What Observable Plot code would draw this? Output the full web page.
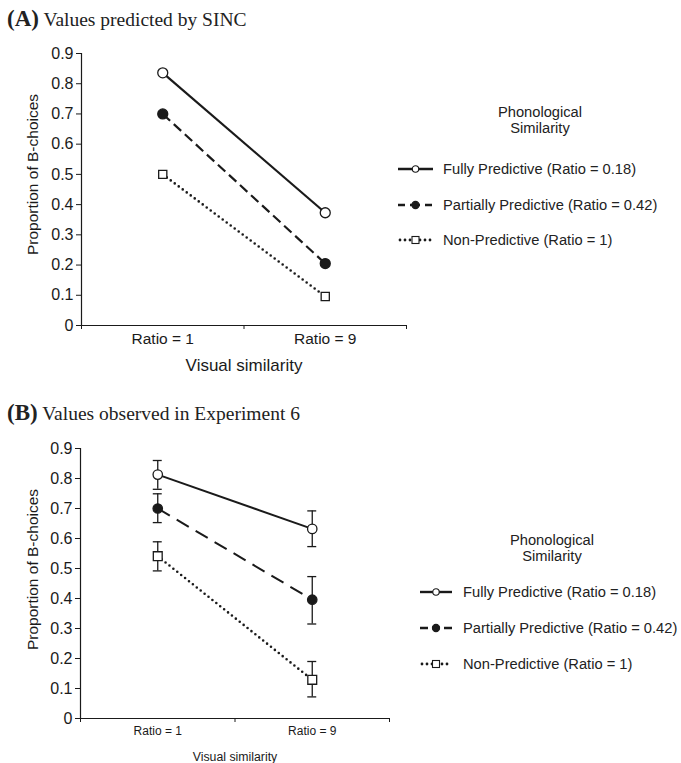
<!DOCTYPE html>
<html>
<head>
<meta charset="utf-8">
<script src="https://cdn.jsdelivr.net/npm/d3@7"></script>
<script src="https://cdn.jsdelivr.net/npm/@observablehq/plot@0.6"></script>
<style>
  html, body { margin: 0; padding: 0; background: #fff; }
  #root { position: relative; width: 681px; height: 763px; overflow: hidden; font-family: "Liberation Sans", Arial, sans-serif; color: #222; }
  .abs { position: absolute; }
  .title { font-family: "Liberation Serif", "Times New Roman", serif; white-space: nowrap; color: #222; }
  .title b { font-size: 23px; }
  .title span { font-size: 19.5px; }
  .lg { position: absolute; white-space: nowrap; font-size: 14.7px; transform: translateY(-50%); display: flex; align-items: center; }
  .head { position: absolute; font-size: 14.7px; text-align: center; line-height: 16px; transform: translate(-50%, -8px); white-space: nowrap; }
</style>
</head>
<body>
<div id="root"></div>
<script>
// ---------- data ----------
const conditions = ["Ratio = 1", "Ratio = 9"];
const seriesNames = ["Fully Predictive (Ratio = 0.18)", "Partially Predictive (Ratio = 0.42)", "Non-Predictive (Ratio = 1)"];
const yTicks = [0, 0.1, 0.2, 0.3, 0.4, 0.5, 0.6, 0.7, 0.8, 0.9];
const yTitle = "Proportion of B-choices";
const xTitle = "Visual similarity";

// Panel A: values predicted by SINC
const predFully = [0.836, 0.373];
const predPartial = [0.700, 0.205];
const predNon = [0.500, 0.096];

// Panel B: values observed in Experiment 6 (mean, lower, upper)
const obsFully = [0.813, 0.632];
const obsFullyLo = [0.764, 0.573];
const obsFullyHi = [0.860, 0.692];
const obsPartial = [0.700, 0.396];
const obsPartialLo = [0.653, 0.315];
const obsPartialHi = [0.749, 0.473];
const obsNon = [0.541, 0.129];
const obsNonLo = [0.492, 0.072];
const obsNonHi = [0.589, 0.190];

// ---------- tables ----------
function rows(series, vals, lo, hi) {
  return conditions.map((c, i) => ({series, cond: c, x: i + 0.5, y: vals[i], lo: lo ? lo[i] : null, hi: hi ? hi[i] : null}));
}
const dataA = [
  rows(seriesNames[0], predFully),
  rows(seriesNames[1], predPartial),
  rows(seriesNames[2], predNon)
];
const dataB = [
  rows(seriesNames[0], obsFully, obsFullyLo, obsFullyHi),
  rows(seriesNames[1], obsPartial, obsPartialLo, obsPartialHi),
  rows(seriesNames[2], obsNon, obsNonLo, obsNonHi)
];

const ink = "#1a1a1a";

function makePlot(data, o) {
  const styles = [
    {dash: null, fill: "white", symbol: "circle", r: o.r},
    {dash: o.dash, fill: ink, symbol: "circle", r: o.r},
    {dash: o.dot, fill: "white", symbol: "square", r: o.rs}
  ];
  const marks = [
    Plot.axisY({ticks: yTicks, tickFormat: d3.format("~g"), tickSize: 5, tickPadding: 3,
      label: null, fontSize: 16, stroke: ink, fill: ink}),
    Plot.axisX({ticks: [0, 1, 2], tickSize: 4, tickFormat: () => "", label: null, stroke: ink}),
    Plot.axisX({ticks: [0.5, 1.5], tickSize: 0, tickPadding: o.xTickPad, tickFormat: v => conditions[Math.floor(v)],
      label: null, fontSize: o.xFont, fill: ink}),
    Plot.text([yTitle], {frameAnchor: "left", textAnchor: "middle", lineAnchor: "middle", rotate: -90,
      dx: o.yLabelDx, dy: o.yLabelDy, fontSize: o.yLabelFont, fill: ink}),
    Plot.text([xTitle], {frameAnchor: "bottom", lineAnchor: "middle", dy: o.xLabelDy, fontSize: o.xLabelFont, fill: ink}),
    Plot.ruleX([0], {stroke: ink, strokeWidth: 1.2}),
    Plot.ruleY([0], {stroke: ink, strokeWidth: 1.2})
  ];
  data.forEach((d, k) => {
    marks.push(Plot.line(d, {x: "x", y: "y", stroke: ink,
      strokeWidth: k === 2 ? o.dotW : o.lw,
      strokeDasharray: styles[k].dash || undefined,
      strokeLinecap: k === 2 ? "round" : "butt"}));
  });
  if (o.errors) {
    data.forEach(d => {
      marks.push(Plot.ruleX(d, {x: "x", y1: "lo", y2: "hi", stroke: ink, strokeWidth: 1.3}));
      marks.push(Plot.ruleY(d, {y: "lo", x1: v => v.x - o.cap, x2: v => v.x + o.cap, stroke: ink, strokeWidth: 1.3}));
      marks.push(Plot.ruleY(d, {y: "hi", x1: v => v.x - o.cap, x2: v => v.x + o.cap, stroke: ink, strokeWidth: 1.3}));
    });
  }
  data.forEach((d, k) => {
    marks.push(Plot.dot(d, {x: "x", y: "y", r: styles[k].r, symbol: styles[k].symbol, fill: styles[k].fill, stroke: ink, strokeWidth: 1.3}));
  });
  return Plot.plot({
    width: o.width, height: o.height,
    marginTop: o.mt, marginBottom: o.mb, marginLeft: o.ml, marginRight: o.mr,
    x: {domain: [0, 2]},
    y: {domain: [0, 0.9]},
    style: {fontFamily: "'Liberation Sans', Arial, sans-serif", fontSize: "16px", color: ink, background: "transparent", overflow: "visible"},
    marks
  });
}

const root = document.getElementById("root");

function addTitle(letter, text, top) {
  const t = document.createElement("div");
  t.className = "title abs";
  t.style.left = "7px";
  t.style.top = top + "px";
  t.innerHTML = `<b>(${letter})</b><span> ${text}</span>`;
  root.appendChild(t);
}

function addPlot(svg, top) {
  const w = document.createElement("div");
  w.className = "abs";
  w.style.left = "0px";
  w.style.top = top + "px";
  w.appendChild(svg);
  root.appendChild(w);
}

function legendSymbol(k, w, big) {
  const ns = "http://www.w3.org/2000/svg";
  const svg = document.createElementNS(ns, "svg");
  svg.setAttribute("width", w);
  svg.setAttribute("height", 12);
  const cx = w / 2;
  const line = document.createElementNS(ns, "line");
  line.setAttribute("x1", 0); line.setAttribute("x2", w);
  line.setAttribute("y1", 6); line.setAttribute("y2", 6);
  line.setAttribute("stroke", ink);
  line.setAttribute("stroke-width", big ? 2.6 : 2.4);
  if (k === 1) line.setAttribute("stroke-dasharray", big ? "7,5,10,5,7" : "8,4,8,4,8");
  if (k === 2) { line.setAttribute("stroke-dasharray", "0,5"); line.setAttribute("stroke-linecap", "round"); line.setAttribute("stroke-width", 2.8); line.setAttribute("x1", 2); line.setAttribute("x2", w - 1); }
  svg.appendChild(line);
  let m;
  if (k === 2) {
    m = document.createElementNS(ns, "rect");
    m.setAttribute("x", cx - 3.5); m.setAttribute("y", 2.5);
    m.setAttribute("width", 7); m.setAttribute("height", 7);
    m.setAttribute("fill", "white");
  } else {
    m = document.createElementNS(ns, "circle");
    m.setAttribute("cx", cx); m.setAttribute("cy", 6);
    m.setAttribute("r", k === 1 ? 3.6 : 3.2);
    m.setAttribute("fill", k === 1 ? ink : "white");
  }
  m.setAttribute("stroke", ink);
  m.setAttribute("stroke-width", 1.1);
  svg.appendChild(m);
  return svg;
}

function addLegend(o) {
  const h = document.createElement("div");
  h.className = "head";
  h.style.left = o.headX + "px";
  h.style.top = o.headY + "px";
  h.innerHTML = "Phonological<br>Similarity";
  root.appendChild(h);
  seriesNames.forEach((s, k) => {
    const e = document.createElement("div");
    e.className = "lg";
    e.style.left = o.symX + "px";
    e.style.top = o.ys[k] + "px";
    const sym = legendSymbol(k, o.symW, o.big);
    sym.style.marginRight = o.gap + "px";
    e.appendChild(sym);
    const sp = document.createElement("span");
    sp.textContent = s;
    e.appendChild(sp);
    root.appendChild(e);
  });
}

// ---------- Panel A ----------
addTitle("A", "Values predicted by SINC", 6);
addPlot(makePlot(dataA, {
  width: 420, height: 345, mt: 18, mb: 55, ml: 81, mr: 14,
  r: 5, rs: 4.6, lw: 2.2, dotW: 2.6, dash: "10,5", dot: "0,5",
  xFont: 15.5, xTickPad: 7, xLabelDy: 40, xLabelFont: 17,
  yLabelDx: -48, yLabelDy: -15, yLabelFont: 15.5, errors: false
}), 35);
addLegend({headX: 540, headY: 112, symX: 398, symW: 35, gap: 10, ys: [169, 205, 240], big: true});

// ---------- Panel B ----------
addTitle("B", "Values observed in Experiment 6", 400);
addPlot(makePlot(dataB, {
  width: 400, height: 338, mt: 23, mb: 45, ml: 80, mr: 11,
  r: 4.7, rs: 5, lw: 2, dotW: 2.6, dash: "14,8", dot: "0,5",
  xFont: 12, xTickPad: 8, xLabelDy: 39, xLabelFont: 12.3,
  yLabelDx: -47, yLabelDy: -14, yLabelFont: 15.5, errors: true, cap: 0.029
}), 425);
addLegend({headX: 552, headY: 540, symX: 420, symW: 32, gap: 11, ys: [592, 628, 664], big: false});
</script>
</body>
</html>
